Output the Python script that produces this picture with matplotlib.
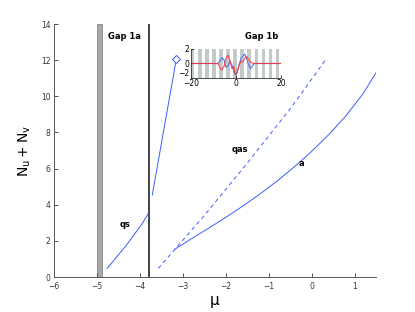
import numpy as np
import matplotlib
matplotlib.use('Agg')
import matplotlib.pyplot as plt

# branch "qs" (below gap 1a edge)
qs_mu = [-4.76, -4.31, -3.94, -3.81]
qs_n = [0.48, 1.77, 2.97, 3.49]

# branch continuing after the gap edge, ends with a diamond
up_mu = [-3.71, -3.15]
up_n = [4.54, 12.06]

# branch "qas" (dashed)
qas_mu = [-3.57, -2.5, -1.5, -0.5, 0.32]
qas_n = [0.48, 3.40, 6.30, 9.30, 12.0]

# branch "a" (solid)
a_mu = [-3.19, -2.8, -2.4, -2.0, -1.6, -1.2, -0.8, -0.4, 0.0, 0.4, 0.8, 1.2, 1.5]
a_n = [1.53, 2.12, 2.70, 3.30, 3.93, 4.60, 5.32, 6.10, 6.95, 7.88, 8.92, 10.15, 11.3]

# gap edges
band_lo, band_hi = -5.00, -4.88
gap_edge = -3.79

# inset profile (u blue, v red)
prof_x = [-20, -8.0, -7.2, -6.3, -5.3, -4.5, -3.6, -2.7, -1.8, -0.9, -0.3, 0.4,
          1.2, 2.2, 3.0, 3.9, 4.8, 5.6, 6.5, 7.4, 8.2, 20]
blue_u = [0, 0, 0.3, 0.8, 0.5, -0.5, -0.4, 0.3, -0.2, -1.1, -1.55, -1.3,
          -0.4, 0.6, 1.0, 1.3, 0.6, -0.1, -0.7, -0.3, 0, 0]
red_v = [0, 0, -0.5, -0.9, -0.4, 0.6, 1.15, 0.5, -0.7, -0.4, -1.5, -1.4,
         -0.5, 0.3, 0.2, 0.7, 0.95, 0.6, 0.2, 0.05, 0, 0]
lattice_period = np.pi

blue = '#3a5cff'

fig = plt.figure(figsize=(4.15, 3.12), dpi=100)
ax = fig.add_axes([0.130, 0.112, 0.776, 0.811])

ax.axvspan(band_lo, band_hi, facecolor='#a8a8a8', edgecolor='#8a8a8a', lw=0.6)
ax.axvline(gap_edge, color='#333333', lw=1.3)

ax.plot(qs_mu, qs_n, color=blue, lw=0.7)
ax.plot(up_mu, up_n, color=blue, lw=0.7)
ax.plot(up_mu[-1], up_n[-1], 'D', mfc='white', mec=blue, ms=4, mew=0.7)
ax.plot(qas_mu, qas_n, color=blue, lw=0.7, dashes=(4, 3.5))
ax.plot(a_mu, a_n, color=blue, lw=0.7)

txt = dict(fontsize=6, fontweight='bold', ha='center', va='center')
ax.text(-4.35, 13.3, 'Gap 1a', **txt)
ax.text(-1.17, 13.3, 'Gap 1b', **txt)
ax.text(-4.35, 2.93, 'qs', **txt)
ax.text(-1.67, 7.07, 'qas', **txt)
ax.text(-0.24, 6.29, 'a', **txt)

ax.set_xlim(-6, 1.5)
ax.set_ylim(0, 14)
ax.set_xticks(range(-6, 2))
ax.set_yticks(range(0, 15, 2))
ax.set_xticklabels(['\u22126', '\u22125', '\u22124', '\u22123', '\u22122', '\u22121', '0', '1'])
for s in ['top', 'right']:
    ax.spines[s].set_visible(False)
for s in ['left', 'bottom']:
    ax.spines[s].set_color('#555555')
    ax.spines[s].set_linewidth(0.7)
ax.tick_params(direction='in', length=3, width=0.6, labelsize=5.5,
               colors='#333333')
ax.tick_params(axis='x', pad=3.5)
ax.tick_params(axis='y', pad=2.5)
ax.set_xlabel(r'$\mathregular{\mu}$', fontsize=11, labelpad=2)
ax.set_ylabel(r'$\mathregular{N_u+N_v}$', fontsize=10, labelpad=6)

# inset
ins = fig.add_axes([0.460, 0.750, 0.217, 0.093])
start = -20.0
while start < 20:
    ins.axvspan(start, min(start + lattice_period / 2, 20), color='#c2cac6', lw=0)
    start += lattice_period
ins.plot(prof_x, blue_u, color='#5070ff', lw=0.8)
ins.plot(prof_x, red_v, color='#ff3030', lw=0.8, alpha=0.85)
ins.set_xlim(-20, 20)
ins.set_ylim(-2, 2)
ins.set_xticks([-20, 0, 20])
ins.set_yticks([-2, 0, 2])
ins.set_xticklabels(['\u221220', '0', '20'])
ins.set_yticklabels(['\u22122', '0', '2'])
ins.get_yticklabels()[0].set_va('bottom')
for s in ['top', 'right']:
    ins.spines[s].set_visible(False)
for s in ['left', 'bottom']:
    ins.spines[s].set_color('#333333')
    ins.spines[s].set_linewidth(0.6)
ins.tick_params(direction='in', length=2, width=0.5, labelsize=5.5, pad=1)

fig.savefig('out.png', dpi=100)
